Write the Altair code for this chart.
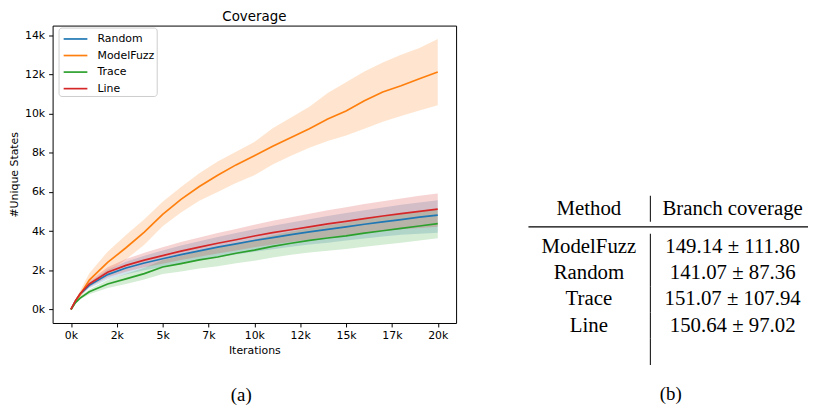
import altair as alt
import pandas as pd

# ---------------- data: coverage curves ----------------
iters = [0, 250, 500, 1000, 2000, 3000, 4000, 5000, 6000, 7000, 8000, 9000,
         10000, 11000, 12000, 13000, 14000, 15000, 16000, 17000, 18000, 19000, 20000]

methods = ["Random", "ModelFuzz", "Trace", "Line"]
colors = ["#1f77b4", "#ff7f0e", "#2ca02c", "#d62728"]

random_mean = [0, 430, 780, 1230, 1780, 2120, 2370, 2590, 2800, 2990, 3180, 3350,
               3520, 3670, 3820, 3960, 4090, 4220, 4350, 4470, 4590, 4710, 4820]
random_lo = [0, 380, 700, 1080, 1530, 1800, 2000, 2170, 2340, 2500, 2660, 2800,
             2950, 3070, 3200, 3310, 3410, 3520, 3620, 3720, 3810, 3870, 3920]
random_hi = [0, 480, 860, 1380, 2030, 2440, 2740, 3010, 3260, 3480, 3700, 3900,
             4090, 4270, 4440, 4610, 4770, 4920, 5070, 5210, 5340, 5460, 5580]

modelfuzz_mean = [0, 430, 760, 1500, 2400, 3150, 3950, 4850, 5620, 6280, 6850, 7380,
                  7850, 8330, 8780, 9230, 9720, 10130, 10650, 11100, 11420, 11780, 12120]
modelfuzz_lo = [0, 350, 600, 1180, 1900, 2550, 3300, 4250, 4950, 5550, 6000, 6450,
                6850, 7400, 7850, 8250, 8600, 8880, 9230, 9580, 9880, 10150, 10420]
modelfuzz_hi = [0, 520, 950, 1850, 2950, 3800, 4600, 5500, 6250, 6950, 7550, 8050,
                8550, 9250, 9800, 10350, 11050, 11600, 12150, 12600, 13000, 13350, 13800]

trace_mean = [0, 350, 580, 900, 1300, 1560, 1830, 2170, 2340, 2530, 2680, 2870,
              3030, 3220, 3380, 3530, 3650, 3760, 3900, 4020, 4140, 4260, 4380]
trace_lo = [0, 300, 510, 780, 1100, 1300, 1530, 1810, 1940, 2090, 2210, 2360,
            2490, 2650, 2790, 2910, 3000, 3090, 3200, 3300, 3410, 3520, 3630]
trace_hi = [0, 400, 650, 1020, 1500, 1820, 2130, 2530, 2740, 2970, 3150, 3380,
            3570, 3790, 3980, 4150, 4300, 4430, 4600, 4740, 4870, 4990, 5100]

line_mean = [0, 450, 800, 1300, 1900, 2250, 2520, 2750, 2980, 3180, 3380, 3560,
             3750, 3920, 4070, 4220, 4370, 4500, 4640, 4770, 4890, 5010, 5120]
line_lo = [0, 400, 720, 1150, 1650, 1930, 2150, 2330, 2520, 2690, 2860, 3010,
           3170, 3310, 3440, 3570, 3690, 3790, 3900, 4000, 4090, 4160, 4220]
line_hi = [0, 500, 880, 1450, 2150, 2570, 2890, 3170, 3440, 3670, 3900, 4110,
           4330, 4530, 4710, 4890, 5060, 5220, 5380, 5530, 5670, 5800, 5920]

x_ticks = [0, 2500, 5000, 7500, 10000, 12500, 15000, 17500, 20000]
y_ticks = [0, 2000, 4000, 6000, 8000, 10000, 12000, 14000]

# ---------------- data: table ----------------
tbl_headers = ["Method", "Branch coverage"]
tbl_methods = ["ModelFuzz", "Random", "Trace", "Line"]
tbl_coverage = ["149.14 ± 111.80", "141.07 ± 87.36", "151.07 ± 107.94", "150.64 ± 97.02"]

# ---------------- build tables ----------------
series = {
    "Random": (random_mean, random_lo, random_hi),
    "ModelFuzz": (modelfuzz_mean, modelfuzz_lo, modelfuzz_hi),
    "Trace": (trace_mean, trace_lo, trace_hi),
    "Line": (line_mean, line_lo, line_hi),
}
records = []
for m in methods:
    mean, lo, hi = series[m]
    for it, a, b, c in zip(iters, mean, lo, hi):
        records.append({"method": m, "iter": it, "mean": a, "lo": b, "hi": c})
df = pd.DataFrame(records)

SANS = "DejaVu Sans"
SERIF = "Liberation Serif"

axis_common = dict(grid=False, domain=False, tickColor="black", tickSize=4, tickWidth=1,
                   labelFont=SANS, labelFontSize=11, labelColor="black",
                   titleFont=SANS, titleFontSize=11, titleFontWeight="normal",
                   titleColor="black")
xaxis = alt.Axis(values=x_ticks, labelExpr="floor(datum.value / 1000) + 'k'",
                 title="Iterations", labelPadding=3, titlePadding=4, **axis_common)
yaxis = alt.Axis(values=y_ticks, labelExpr="floor(datum.value / 1000) + 'k'",
                 title="#Unique States", labelPadding=4, titlePadding=5, **axis_common)

xscale = alt.Scale(domain=[-1000, 21000], nice=False, zero=False)
yscale = alt.Scale(domain=[-690, 14490], nice=False, zero=False)
stroke_scale = alt.Scale(domain=methods, range=colors)
# same colour mapping for the bands (listed in reverse so the legends are not merged)
fill_scale = alt.Scale(domain=methods[::-1], range=colors[::-1])

base = alt.Chart(df)
bands = base.mark_area(opacity=0.2).encode(
    x=alt.X("iter:Q", scale=xscale, axis=xaxis),
    y=alt.Y("lo:Q", scale=yscale, axis=yaxis),
    y2="hi:Q",
    fill=alt.Fill("method:N", scale=fill_scale, legend=None),
)
lines = base.mark_line(strokeWidth=1.7).encode(
    x=alt.X("iter:Q", scale=xscale, axis=xaxis),
    y=alt.Y("mean:Q", scale=yscale, axis=yaxis),
    stroke=alt.Stroke(
        "method:N", scale=stroke_scale,
        legend=alt.Legend(
            title=None, orient="none", legendX=6, legendY=2, direction="vertical",
            symbolType="M-1.43,0H1.43", symbolSize=280, symbolStrokeWidth=1.7,
            symbolOffset=5.6, labelOffset=12.7, padding=2, rowPadding=1.7,
            strokeColor="#cccccc", fillColor="rgba(255,255,255,0.8)", cornerRadius=3,
            labelFont=SANS, labelFontSize=11, labelColor="black", labelLimit=300,
        ),
    ),
)
plot = alt.layer(bands, lines).properties(
    width=407, height=300,
    title=alt.TitleParams("Coverage", font=SANS, fontSize=13.5, fontWeight="normal",
                          color="black", frame="group", anchor="middle", offset=2),
    view=alt.ViewBackground(stroke="black", strokeWidth=1),
)

# ---------------- table chart ----------------
row_domain = ["_head"] + tbl_methods + ["_end"]
cells = pd.DataFrame([
    {"row": m, "col": c, "text": t}
    for m, v in zip(tbl_methods, tbl_coverage)
    for c, t in zip(tbl_headers, [m, v])
])
head = pd.DataFrame([{"row": "_head", "col": h, "text": h} for h in tbl_headers])
sep_body = pd.DataFrame({"row": tbl_methods + ["_end"], "col": ["Method"] * 5})
sep_head = pd.DataFrame({"row": ["_head"], "col": ["Method"]})

TBL_H = 342.5
ROW_STEP = 26.5
x_t = alt.X("col:N", scale=alt.Scale(type="point", domain=tbl_headers, padding=0.4724, align=0.445),
            axis=None)
y_t = alt.Y("row:N", scale=alt.Scale(type="band", domain=row_domain, paddingInner=0,
                                     paddingOuter=0,
                                     range=[TBL_H - len(row_domain) * ROW_STEP, TBL_H]),
            axis=None)

txt = dict(font=SERIF, fontSize=21, color="black", align="center", baseline="middle")
body_text = alt.Chart(cells).mark_text(**txt).encode(x=x_t, y=y_t, text="text:N")
head_text = alt.Chart(head).mark_text(dy=-12, **txt).encode(x=x_t, y=y_t, text="text:N")
midrule = alt.Chart(sep_head).mark_rule(color="black", strokeWidth=1.2, yOffset=6.25).encode(y=y_t)
vsep_body = alt.Chart(sep_body).mark_tick(orient="vertical", size=ROW_STEP, thickness=1,
                                          color="black", opacity=1, xOffset=62).encode(x=x_t, y=y_t)
vsep_head = alt.Chart(sep_head).mark_tick(orient="vertical", size=26, thickness=1,
                                          color="black", opacity=1, xOffset=62,
                                          yOffset=-12).encode(x=x_t, y=y_t)
table = alt.layer(midrule, vsep_body, vsep_head, head_text, body_text).properties(
    width=282, height=TBL_H)

cap = dict(orient="bottom", anchor="middle", font=SERIF, fontSize=19, fontWeight="normal",
           color="black")
left = alt.vconcat(plot, title=alt.TitleParams("(a)", offset=30, dx=9, **cap))
right = alt.vconcat(table, title=alt.TitleParams("(b)", offset=20, dx=2.5, **cap))

chart = alt.hconcat(left, right, spacing=71).properties(
    padding={"left": 0, "right": 0, "top": 0, "bottom": 0}
).configure_view(strokeWidth=0)

chart.save("out.html", embed_options={"renderer": "svg", "actions": False})
